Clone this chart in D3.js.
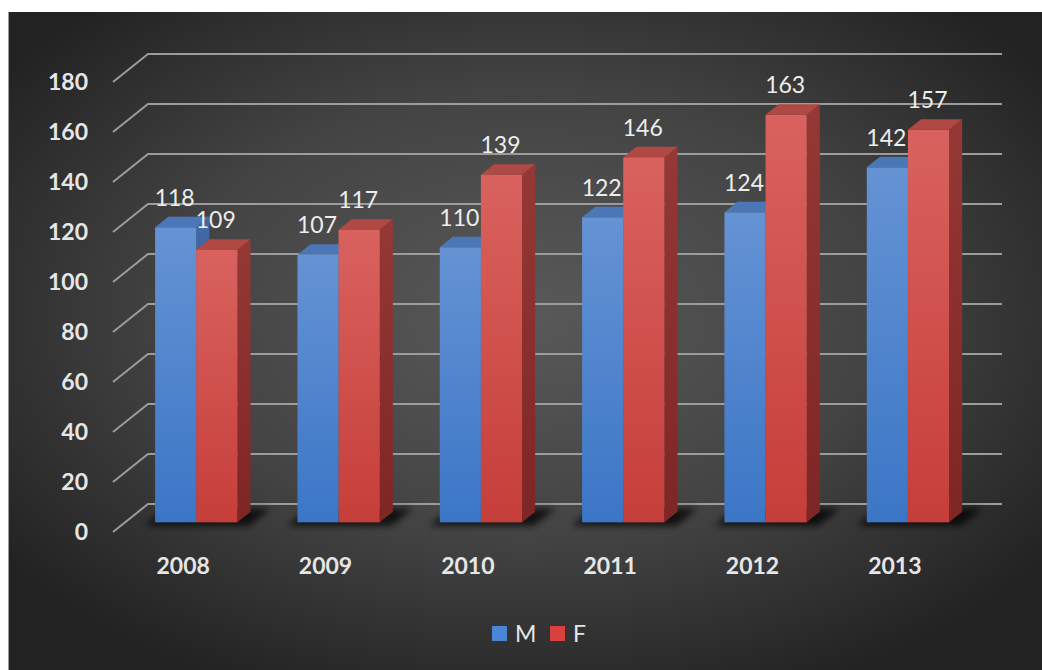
<!DOCTYPE html>
<html>
<head>
<meta charset="utf-8">
<script src="https://cdn.jsdelivr.net/npm/d3@7"></script>
<style>
  html, body { margin: 0; padding: 0; background: #ffffff; }
  svg { display: block; }
  text { font-family: Lato, "Open Sans", sans-serif; }
</style>
</head>
<body>
<svg id="chart" width="1042" height="670"></svg>
<script>
// Data
const years = ["2008", "2009", "2010", "2011", "2012", "2013"];
const seriesNames = ["M", "F"];
const maleValues = [118, 107, 110, 122, 124, 142];
const femaleValues = [109, 117, 139, 146, 163, 157];
const yTicks = [0, 20, 40, 60, 80, 100, 120, 140, 160, 180];

const svg = d3.select("#chart");
const W = 1042, H = 670;

// Oblique projection of the 3-D plot box
const origin = { x: 113, y: 532 };   // front-left corner of the floor
const depth = { dx: 35, dy: -28 };   // vector from the front edge to the back wall
const plotWidth = 854;

const x0 = d3.scaleBand().domain(years).range([0, plotWidth]);
const y = d3.scaleLinear().domain([0, 180]).range([0, 450]);
const pairWidth = x0.bandwidth() * 0.578;
const x1 = d3.scaleBand().domain(seriesNames).range([0, pairWidth]);
const pairOffset = (x0.bandwidth() - pairWidth) / 2;
const dFront = 0.345, dBack = 0.72;

function proj(x, v, d) {
  return [origin.x + x + depth.dx * d, origin.y - y(v) + depth.dy * d];
}
const poly = pts => "M" + pts.map(p => p.join(",")).join("L") + "Z";

// Definitions: gradients and filters
const defs = svg.append("defs");
const bg = defs.append("radialGradient").attr("id", "bgGrad")
  .attr("cx", "50%").attr("cy", "46%").attr("r", "62%");
bg.append("stop").attr("offset", "0%").attr("stop-color", "#595959");
bg.append("stop").attr("offset", "55%").attr("stop-color", "#434343");
bg.append("stop").attr("offset", "100%").attr("stop-color", "#232323");

function vGrad(id, top, bottom) {
  const g = defs.append("linearGradient").attr("id", id)
    .attr("x1", 0).attr("y1", 0).attr("x2", 0).attr("y2", 1);
  g.append("stop").attr("offset", "0%").attr("stop-color", top);
  g.append("stop").attr("offset", "100%").attr("stop-color", bottom);
}
vGrad("frontM", "#6593d4", "#3b76c6");
vGrad("frontF", "#d9625e", "#c63e3a");
vGrad("sideM", "#3f6aa6", "#2f5690");
vGrad("sideF", "#953836", "#7e2624");

const styles = {
  M: { front: "url(#frontM)", side: "url(#sideM)", top: "#4c77b6", legend: "#4a86d8" },
  F: { front: "url(#frontF)", side: "url(#sideF)", top: "#b04844", legend: "#d9413f" }
};

defs.append("filter").attr("id", "shadowBlur")
  .attr("x", "-30%").attr("y", "-60%").attr("width", "160%").attr("height", "220%")
  .append("feGaussianBlur").attr("stdDeviation", 3.5);

// Background panel
svg.append("rect").attr("x", 8).attr("y", 12).attr("width", W - 8).attr("height", H - 12)
  .attr("fill", "url(#bgGrad)");
svg.append("line").attr("x1", 8.5).attr("x2", 8.5).attr("y1", 12).attr("y2", H)
  .attr("stroke", "#9a9a9a").attr("stroke-width", 1);

// Gridlines: side-wall diagonal + back-wall horizontal
svg.append("g").selectAll("path").data(yTicks).join("path")
  .attr("d", t => {
    const a = proj(0, t, 0), b = proj(0, t, 1), c = proj(plotWidth, t, 1);
    return `M${a}L${b}L${c}`;
  })
  .attr("fill", "none").attr("stroke", "#9c9c9c").attr("stroke-width", 2);

// Y axis labels
svg.append("g").selectAll("text").data(yTicks).join("text")
  .attr("x", 88).attr("y", t => proj(0, t, 0)[1])
  .attr("dy", "0.35em").attr("text-anchor", "end")
  .attr("font-size", 23).attr("font-weight", "bold").attr("fill", "#e6e6e6")
  .text(t => t);

// Rows of bar data
const rows = years.map((yr, i) => ({ year: yr, values: [
  { key: "M", value: maleValues[i] },
  { key: "F", value: femaleValues[i] }
]}));

// Floor shadows beneath each pair
svg.append("g").attr("filter", "url(#shadowBlur)").selectAll("path").data(rows).join("path")
  .attr("d", r => {
    const gx = x0(r.year) + pairOffset;
    return poly([
      proj(gx - 6, 0, dFront - 0.12), proj(gx + pairWidth + 16, 0, dFront - 0.12),
      proj(gx + pairWidth + 16, 0, dBack + 0.12), proj(gx - 6, 0, dBack + 0.12)
    ]);
  })
  .attr("fill", "#000").attr("opacity", 0.75);

// Bars drawn left to right, M before F, so nearer faces overlap correctly
const bars = svg.append("g");
rows.forEach(r => {
  r.values.forEach(s => {
    const xl = x0(r.year) + pairOffset + x1(s.key);
    const xr = xl + x1.bandwidth();
    const v = s.value, st = styles[s.key];
    const g = bars.append("g");
    g.append("path").attr("d", poly([proj(xr, 0, dFront), proj(xr, v, dFront), proj(xr, v, dBack), proj(xr, 0, dBack)]))
      .attr("fill", st.side);
    g.append("path").attr("d", poly([proj(xl, v, dFront), proj(xr, v, dFront), proj(xr, v, dBack), proj(xl, v, dBack)]))
      .attr("fill", st.top);
    const p0 = proj(xl, v, dFront), p1 = proj(xr, 0, dFront);
    g.append("rect").attr("x", p0[0]).attr("y", p0[1])
      .attr("width", p1[0] - p0[0]).attr("height", p1[1] - p0[1])
      .attr("fill", st.front);
  });
});

// Value labels
const labelData = rows.flatMap(r => r.values.map(s => ({ year: r.year, ...s })));
svg.append("g").selectAll("text").data(labelData).join("text")
  .attr("x", d => {
    const xl = x0(d.year) + pairOffset + x1(d.key);
    return proj(xl + x1.bandwidth() / 2, d.value, dFront)[0] - 1;
  })
  .attr("y", d => proj(0, d.value, dBack)[1] - 11)
  .attr("text-anchor", "middle")
  .attr("font-size", 23).attr("fill", "#ededed")
  .text(d => d.value);

// Category labels along the front edge of the floor
svg.append("g").selectAll("text").data(years).join("text")
  .attr("x", d => proj(x0(d) + x0.bandwidth() / 2, 0, 0)[0] - 1)
  .attr("y", 574)
  .attr("text-anchor", "middle")
  .attr("font-size", 23).attr("font-weight", "bold").attr("fill", "#e6e6e6")
  .text(d => d);

// Legend
const legend = svg.append("g");
const legendItems = [{ key: "M", x: 492 }, { key: "F", x: 550 }];
legendItems.forEach(item => {
  legend.append("rect").attr("x", item.x).attr("y", 626).attr("width", 15).attr("height", 15)
    .attr("fill", styles[item.key].legend);
  legend.append("text").attr("x", item.x + 23).attr("y", 642)
    .attr("font-size", 23).attr("fill", "#e6e6e6").text(item.key);
});
</script>
</body>
</html>
